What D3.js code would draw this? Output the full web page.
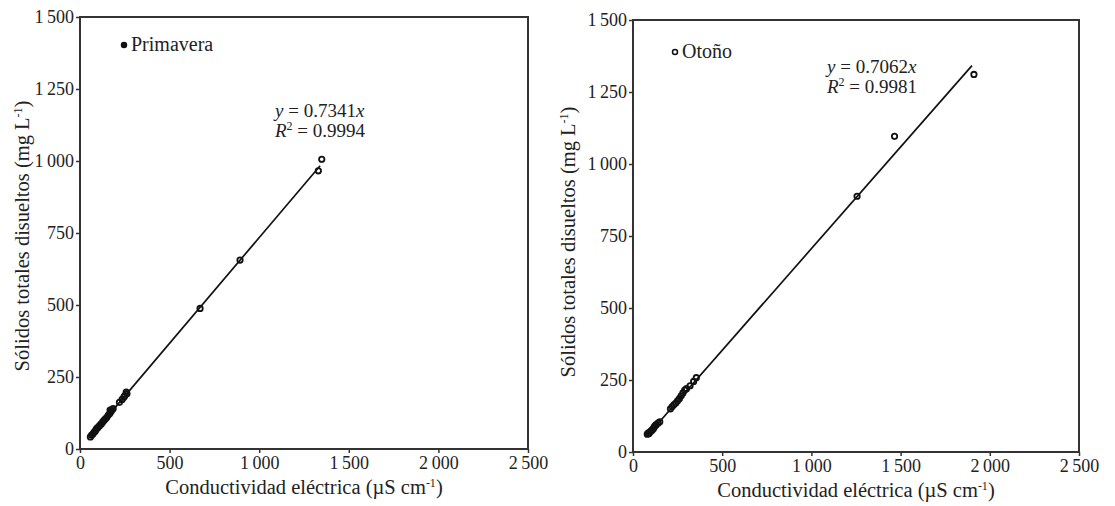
<!DOCTYPE html>
<html>
<head>
<meta charset="utf-8">
<script src="https://cdn.jsdelivr.net/npm/d3@7"></script>
<style>
  body { margin: 0; background: #fff; }
  text { font-family: "Liberation Serif", "DejaVu Serif", serif; fill: #222; }
</style>
</head>
<body>
<div id="chart"></div>
<script>
// Values
var xTicks = [0, 500, 1000, 1500, 2000, 2500];
var yTicks = [0, 250, 500, 750, 1000, 1250, 1500];

// Primavera (spring)
var primaveraCE  = [58, 65, 72, 78, 85, 90, 95, 100, 108, 115, 120, 128, 135, 142, 150, 158, 165, 170, 175, 180, 168, 185, 220, 235, 245, 250, 258, 262, 670, 893, 1330, 1349];
var primaveraSTD = [42, 48, 52, 58, 62, 68, 72, 75, 80, 85, 88, 95, 100, 105, 110, 118, 122, 128, 132, 138, 135, 140, 162, 172, 180, 185, 198, 192, 488, 656, 966, 1006];
var primaveraFit = [56, 1340];
var primaveraSlope = 0.7341;

// Otoño (autumn)
var otonoCE  = [80, 85, 90, 95, 100, 105, 110, 115, 120, 125, 130, 140, 150, 210, 220, 230, 240, 250, 260, 270, 280, 290, 300, 320, 340, 355, 1256, 1466, 1911];
var otonoSTD = [62, 66, 64, 70, 72, 75, 78, 82, 88, 92, 95, 100, 105, 150, 158, 165, 170, 178, 185, 195, 205, 215, 220, 230, 245, 258, 888, 1096, 1311];
var otonoFit = [80, 1900];
var otonoSlope = 0.7062;

var panels = [
  { name: "Primavera", ce: primaveraCE, std: primaveraSTD, fit: primaveraFit, slope: primaveraSlope, r2: "0.9994",
    left: 80, right: 528, top: 17, bottom: 449, legend: [124, 45], eq: [275, 117], yTitle: [29, 236], filledKey: true },
  { name: "Otoño", ce: otonoCE, std: otonoSTD, fit: otonoFit, slope: otonoSlope, r2: "0.9981",
    left: 633, right: 1079, top: 20, bottom: 452, legend: [675, 52], eq: [827, 73], yTitle: [575, 242], filledKey: false }
];

var locale = d3.formatLocale({ decimal: ".", thousands: "\u2009", grouping: [3], currency: ["", ""] });
var fmt = locale.format(",d");

var svg = d3.select("#chart").append("svg")
    .attr("width", 1115)
    .attr("height", 506);

panels.forEach(function(p) {
  var x = d3.scaleLinear().domain([0, 2500]).range([p.left, p.right]);
  var y = d3.scaleLinear().domain([0, 1500]).range([p.bottom, p.top]);
  var g = svg.append("g");

  // frame
  g.append("rect")
      .attr("x", p.left).attr("y", p.top)
      .attr("width", p.right - p.left).attr("height", p.bottom - p.top)
      .attr("fill", "none").attr("stroke", "#333").attr("stroke-width", 2);

  // axes
  var xa = g.append("g")
      .attr("transform", "translate(0," + p.bottom + ")")
      .call(d3.axisBottom(x).tickValues(xTicks).tickFormat(fmt).tickSize(4).tickPadding(3));
  var ya = g.append("g")
      .attr("transform", "translate(" + p.left + ",0)")
      .call(d3.axisLeft(y).tickValues(yTicks).tickFormat(fmt).tickSize(4).tickPadding(2));
  [xa, ya].forEach(function(a) {
    a.select(".domain").remove();
    a.selectAll("line").attr("stroke", "#333").attr("stroke-width", 1.5);
    a.selectAll("text").style("font-family", "Liberation Serif").style("font-size", "18px").attr("fill", "#222");
  });

  // regression line
  g.append("line")
      .attr("x1", x(p.fit[0])).attr("y1", y(p.fit[0] * p.slope))
      .attr("x2", x(p.fit[1])).attr("y2", y(p.fit[1] * p.slope))
      .attr("stroke", "#111").attr("stroke-width", 1.7);

  // points
  g.selectAll("circle.pt")
    .data(p.ce.map(function(d, i) { return [d, p.std[i]]; }))
    .enter().append("circle")
      .attr("class", "pt")
      .attr("cx", function(d) { return x(d[0]); })
      .attr("cy", function(d) { return y(d[1]); })
      .attr("r", 2.7)
      .attr("fill", "none")
      .attr("stroke", "#111")
      .attr("stroke-width", 1.8);

  // legend
  g.append("circle")
      .attr("cx", p.legend[0]).attr("cy", p.legend[1]).attr("r", 2.5)
      .attr("fill", p.filledKey ? "#111" : "#fff").attr("stroke", "#111").attr("stroke-width", 1.5);
  g.append("text")
      .attr("x", p.legend[0] + 7).attr("y", p.legend[1] + 6)
      .style("font-size", "20px")
      .text(p.name);

  // equation
  var eq = g.append("text").attr("x", p.eq[0]).attr("y", p.eq[1]).style("font-size", "19px");
  eq.append("tspan").style("font-style", "italic").text("y");
  eq.append("tspan").text(" = " + p.slope.toFixed(4));
  eq.append("tspan").style("font-style", "italic").text("x");
  var r2 = g.append("text").attr("x", p.eq[0]).attr("y", p.eq[1] + 20).style("font-size", "19px");
  r2.append("tspan").style("font-style", "italic").text("R");
  r2.append("tspan").attr("dy", -7).style("font-size", "12px").text("2");
  r2.append("tspan").attr("dy", 7).text(" = " + p.r2);

  // axis titles
  var xt = g.append("text")
      .attr("x", (p.left + p.right) / 2).attr("y", p.bottom + 45)
      .attr("text-anchor", "middle").style("font-size", "20.5px");
  xt.append("tspan").text("Conductividad eléctrica (µS cm");
  xt.append("tspan").attr("dy", -7).style("font-size", "12px").text("-1");
  xt.append("tspan").attr("dy", 7).text(")");

  var yt = g.append("text")
      .attr("transform", "translate(" + p.yTitle[0] + "," + p.yTitle[1] + ") rotate(-90)")
      .attr("text-anchor", "middle").style("font-size", "20.5px");
  yt.append("tspan").text("Sólidos totales disueltos (mg L");
  yt.append("tspan").attr("dy", -7).style("font-size", "12px").text("-1");
  yt.append("tspan").attr("dy", 7).text(")");
});
</script>
</body>
</html>
